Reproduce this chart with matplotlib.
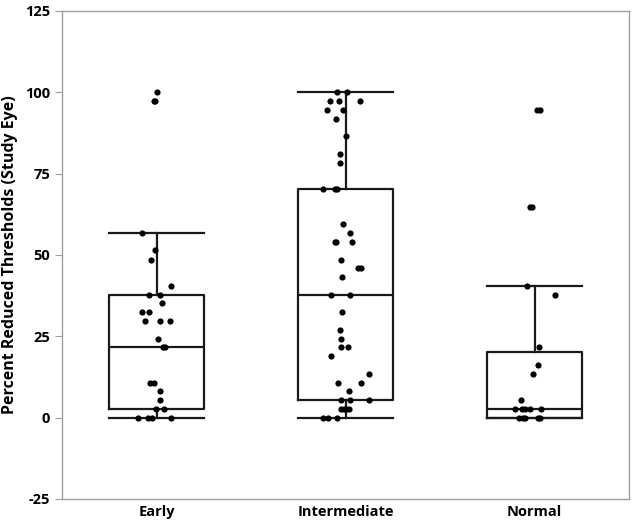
import matplotlib
matplotlib.use("Agg")
import matplotlib.pyplot as plt
import numpy as np

plt.rcParams['font.family'] = ['Open Sans', 'DejaVu Sans']
plt.rcParams['font.weight'] = 'bold'
plt.rcParams['axes.unicode_minus'] = False

groups = ["Early", "Intermediate", "Normal"]

# percent reduced thresholds
early = [100.0, 97.3, 97.3, 56.8, 51.4, 48.6, 40.5, 37.8, 37.8, 35.1,
         32.4, 32.4, 29.7, 29.7, 29.7, 24.3, 21.6, 21.6, 10.8, 10.8,
         8.1, 5.4, 2.7, 2.7, 0, 0, 0, 0]
early_jit = [0, -3, -1.5, -15, -1.5, -5.5, 14, -7.5, 3.5, 5,
             -15, -8, -11.5, 3.5, 13, 1, 6, 8.5, -7, -3,
             3, 3.5, -1, 7, -19, -9, -5, 14]

inter = [100, 100, 97.3, 97.3, 97.3, 94.6, 94.6, 91.9, 86.5, 81.1,
         78.4, 70.3, 70.3, 70.3, 59.5, 56.8, 54.1, 54.1, 54.1, 48.6,
         45.9, 45.9, 43.2, 37.8, 37.8, 32.4, 27.0, 24.3, 21.6, 21.6,
         18.9, 13.5, 10.8, 10.8, 8.1, 5.4, 5.4, 5.4, 2.7, 2.7,
         2.7, 2.7, 0, 0, 0]
inter_jit = [-9, 1, -15.5, -6.5, 14, -18.5, -3, -10, 0, -6,
             -5.5, -22.5, -11, -9, -3, 4.5, -10.5, -9.5, 6.5, -5,
             12, 15.5, -4, -15, 4, -3.5, -5.5, -4.5, -5, 2.5,
             -14.5, 23, -8, 15, 3.5, -5, 4, 23, -5, -2,
             0, 3.5, -22.5, -17.5, -9]

normal = [94.6, 94.6, 64.9, 64.9, 40.5, 37.8, 21.6, 16.2, 13.5, 5.4,
          2.7, 2.7, 2.7, 2.7, 2.7, 0, 0, 0, 0, 0]
normal_jit = [2.5, 5, -5, -3, -8, 20, 4, 3, -2, -14,
              -20, -13, -10, -5, 6, -16, -12, -10, 3.5, 5]

# box summaries as drawn (whisker low, q1, median, q3, whisker high)
whislo = [0, 0, 0]
q1 = [2.7, 5.4, 0]
med = [21.6, 37.8, 2.7]
q3 = [37.8, 70.3, 20.3]
whishi = [56.8, 100, 40.5]

fig = plt.figure(figsize=(6.35, 5.25), dpi=100)
ax = fig.add_axes([62/635, 1 - 499/525, 567/635, 488/525])

stats = []
for i in range(3):
    stats.append(dict(whislo=whislo[i], q1=q1[i], med=med[i], q3=q3[i],
                      whishi=whishi[i], fliers=[], label=groups[i]))
lp = dict(color='#1a1a1a', linewidth=1.6)
ax.bxp(stats, positions=[0, 1, 2], widths=0.5, showfliers=False,
       boxprops=lp, medianprops=lp, whiskerprops=lp, capprops=lp,
       capwidths=0.5)

for i, (vals, jit) in enumerate([(early, early_jit), (inter, inter_jit), (normal, normal_jit)]):
    x = i + np.array(jit) / 189.0
    ax.scatter(x, vals, s=20, color='black', zorder=3, linewidths=0)

ax.set_xlim(-0.5, 2.5)
ax.set_ylim(-25, 125)
ax.set_yticks([-25, 0, 25, 50, 75, 100, 125])
ax.set_xticks([0, 1, 2])
ax.set_xticklabels(groups)
for s in ax.spines.values():
    s.set_color('#a0a0a0')
    s.set_linewidth(1.0)
ax.tick_params(axis='y', color='#a0a0a0', length=5, labelsize=10.5)
ax.tick_params(axis='x', length=0, labelsize=10.5, pad=4)
for t in ax.get_xticklabels() + ax.get_yticklabels():
    t.set_fontweight('bold')
ax.set_ylabel("Percent Reduced Thresholds (Study Eye)", fontsize=11.5,
              fontweight='bold', labelpad=5)

fig.savefig("out.png", dpi=100)
